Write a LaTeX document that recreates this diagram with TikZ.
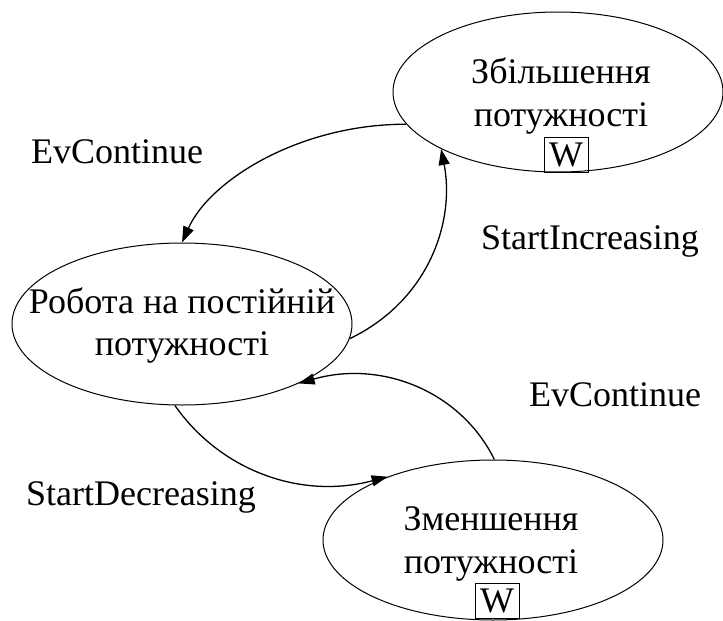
\documentclass[tikz,border=0pt]{standalone}
\usepackage{fontspec}
\setmainfont{Liberation Serif}
\usetikzlibrary{shapes.geometric,arrows.meta}
\tikzset{
  state/.style={draw, ellipse, line width=1pt, inner sep=0pt},
  txt/.style={anchor=base, inner sep=0pt, font=\fontsize{36}{42}\selectfont},
  wbox/.style={draw, line width=1pt, minimum width=44pt, minimum height=35pt, inner sep=0pt, font=\fontsize{36}{42}\selectfont},
  conn/.style={line width=1.3pt, -{Triangle[length=16pt,width=11pt]}},
  lbl/.style={inner sep=0pt, font=\fontsize{36}{42}\selectfont}
}
\begin{document}
\begin{tikzpicture}[x=1pt,y=-1pt]
\useasboundingbox (0,0) rectangle (723,621);
% states
\node[state, minimum width=330pt, minimum height=160pt] (T) at (558,92) {};
\node[state, minimum width=340pt, minimum height=162pt] (L) at (182,324) {};
\node[state, minimum width=340pt, minimum height=160pt] (B) at (493,540) {};
% texts
\node[txt] (t1) at (561,83) {Збільшення};
\node[txt] (t2) at (561,126) {потужності};
\node[wbox] (tw) at (566,155) {W};
\node[txt] (l1) at (182,313) {Робота на постійній};
\node[txt] (l2) at (182,355) {потужності};
\node[txt] (b1) at (491,530) {Зменшення};
\node[txt] (b2) at (491,573) {потужності};
\node[wbox] (bw) at (497,601) {W};
% connectors
\draw[conn] (L.-5) .. controls (430,300) and (455,220) .. (T.206);
\draw[conn] (T.192) .. controls (300,124) and (210,180) .. (L.90);
\draw[conn] (B.89) .. controls (460,390) and (380,360) .. (L.-27);
\draw[conn] (L.265) .. controls (220,470) and (300,500) .. (B.149);
% labels
\node[lbl] (e1) at (117,152) {EvContinue};
\node[lbl] (e2) at (590,241) {StartIncreasing};
\node[lbl] (e3) at (615,395) {EvContinue};
\node[lbl] (e4) at (141,497) {StartDecreasing};
\end{tikzpicture}
\end{document}
